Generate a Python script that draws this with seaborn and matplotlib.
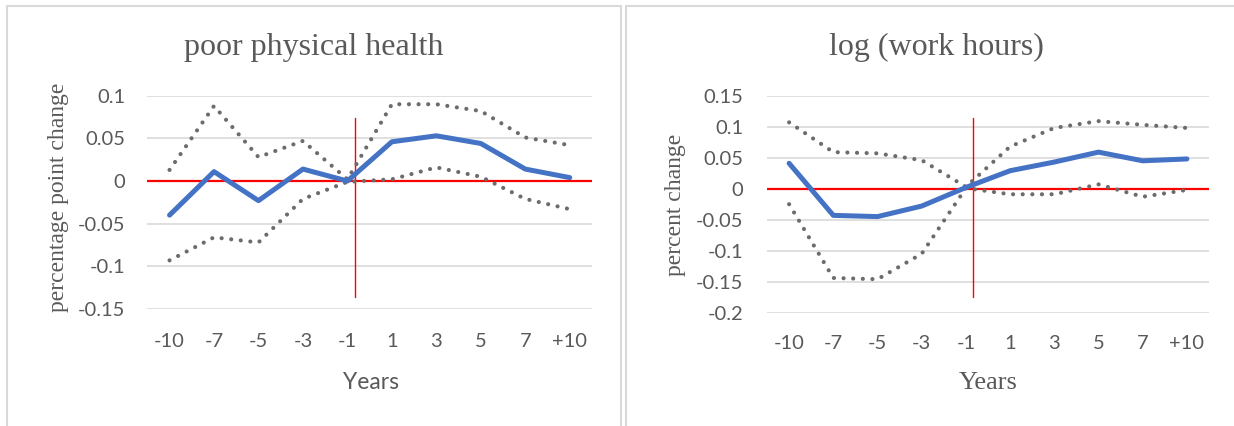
import numpy as np
import pandas as pd
import matplotlib
matplotlib.use("Agg")
import matplotlib.pyplot as plt
import seaborn as sns
from matplotlib.patches import Rectangle
from matplotlib.ticker import FuncFormatter

# ---------------- data ----------------
years = ["-10", "-7", "-5", "-3", "-1", "1", "3", "5", "7", "+10"]

health_est = [-0.040, 0.011, -0.023, 0.014, 0.0, 0.046, 0.053, 0.044, 0.014, 0.004]
health_hi = [0.013, 0.088, 0.028, 0.047, 0.002, 0.090, 0.090, 0.082, 0.051, 0.042]
health_lo = [-0.093, -0.066, -0.072, -0.021, -0.001, 0.002, 0.016, 0.005, -0.021, -0.033]

hours_est = [0.041, -0.043, -0.045, -0.028, 0.002, 0.029, 0.043, 0.059, 0.045, 0.048]
hours_hi = [0.107, 0.059, 0.057, 0.046, 0.003, 0.068, 0.098, 0.109, 0.103, 0.098]
hours_lo = [-0.025, -0.144, -0.146, -0.105, 0.001, -0.009, -0.009, 0.007, -0.013, -0.002]

health_yticks = [-0.15, -0.1, -0.05, 0, 0.05, 0.1]
hours_yticks = [-0.2, -0.15, -0.1, -0.05, 0, 0.05, 0.1, 0.15]

# event marker (vertical red line): category position and its y extent
event_pos = 4.16
health_event_y = [-0.136, 0.0735]
hours_event_y = [-0.1747, 0.114]

# ---------------- style ----------------
sns.set_style("white")
plt.rcParams["font.family"] = ["Lato", "DejaVu Sans"]

W, H = 1234, 426
BLUE = "#4472C4"
GRAY = "#6F6B6B"
TXT = "#595959"
GRID = "#D9D9D9"
SERIF = ["Liberation Serif", "DejaVu Serif"]

fig = plt.figure(figsize=(W / 100, H / 100), dpi=100)


def px_axes(x0, x1, ytop, ybot):
    return fig.add_axes([x0 / W, 1 - ybot / H, (x1 - x0) / W, (ybot - ytop) / H])


def fmt(v, pos):
    s = f"{round(v, 4):g}"
    if s == "-0":
        s = "0"
    return s


def panel(ax, est, lo, hi, yticks, ev_y, ylabel, ylab_xy, xlab_font, xlab_size,
          xlab_xy, xpad, ypad):
    pos = np.arange(len(years))
    df = pd.DataFrame({"pos": pos, "est": est, "lo": lo, "hi": hi})
    ax.set_xlim(-0.5, len(years) - 0.5)
    ax.set_ylim(min(yticks), max(yticks))
    ax.set_yticks(yticks)
    ax.yaxis.set_major_formatter(FuncFormatter(fmt))
    ax.set_xticks(pos)
    ax.set_xticklabels(years)
    ax.yaxis.grid(True, color=GRID, lw=1.2, zorder=0)
    ax.xaxis.grid(False)
    ax.set_axisbelow(True)
    for s in ax.spines.values():
        s.set_visible(False)
    ax.tick_params(axis="both", length=0, labelsize=14.5, labelcolor=TXT)
    ax.tick_params(axis="x", pad=xpad)
    ax.tick_params(axis="y", pad=ypad)

    ax.axhline(0, color="#FF0000", lw=1.6, zorder=2)
    ax.plot([event_pos, event_pos], ev_y, color="#FF0000", lw=1.0, zorder=2)

    for col in ["hi", "lo"]:
        sns.lineplot(data=df, x="pos", y=col, ax=ax, color=GRAY, lw=3.0,
                     linestyle=(0, (0.01, 2.3)), dash_capstyle="round", zorder=3)
    sns.lineplot(data=df, x="pos", y="est", ax=ax, color=BLUE, lw=3.6,
                 solid_joinstyle="round", solid_capstyle="round", zorder=4)

    ax.set_ylabel(ylabel, family=SERIF, fontsize=17, color=TXT, va="center")
    ax.yaxis.set_label_coords(*ylab_xy)
    ax.set_xlabel("Years", family=xlab_font, fontsize=xlab_size, color=TXT,
                  va="baseline")
    ax.xaxis.set_label_coords(*xlab_xy)


# chart frames
fig.add_artist(Rectangle((6.5 / W, -0.2), (621 - 6.5) / W, 1.2 - 6 / H,
                         transform=fig.transFigure, fill=False,
                         edgecolor=GRID, lw=1.5, clip_on=False))
fig.add_artist(Rectangle((625.5 / W, -0.2), 1.0, 1.2 - 6 / H,
                         transform=fig.transFigure, fill=False,
                         edgecolor=GRID, lw=1.5, clip_on=False))

ax1 = px_axes(147.3, 592.0, 95.7, 309.0)
panel(ax1, health_est, health_lo, health_hi, health_yticks, health_event_y,
      "percentage point change", (-0.2008, 0.5237), ["Lato", "DejaVu Sans"], 16.5,
      (0.5026, -0.375), 17.5, 16)

ax2 = px_axes(767.0, 1209.0, 95.7, 312.7)
panel(ax2, hours_est, hours_lo, hours_hi, hours_yticks, hours_event_y,
      "percent change", (-0.206, 0.496), SERIF, 19,
      (0.501, -0.3516), 16, 17)

fig.text(313.5 / W, 1 - 55 / H, "poor physical health", family=SERIF, fontsize=23,
         color=TXT, ha="center", va="baseline")
fig.text(936.5 / W, 1 - 55 / H, "log (work hours)", family=SERIF, fontsize=23,
         color=TXT, ha="center", va="baseline")

fig.savefig("out.png", dpi=100)
